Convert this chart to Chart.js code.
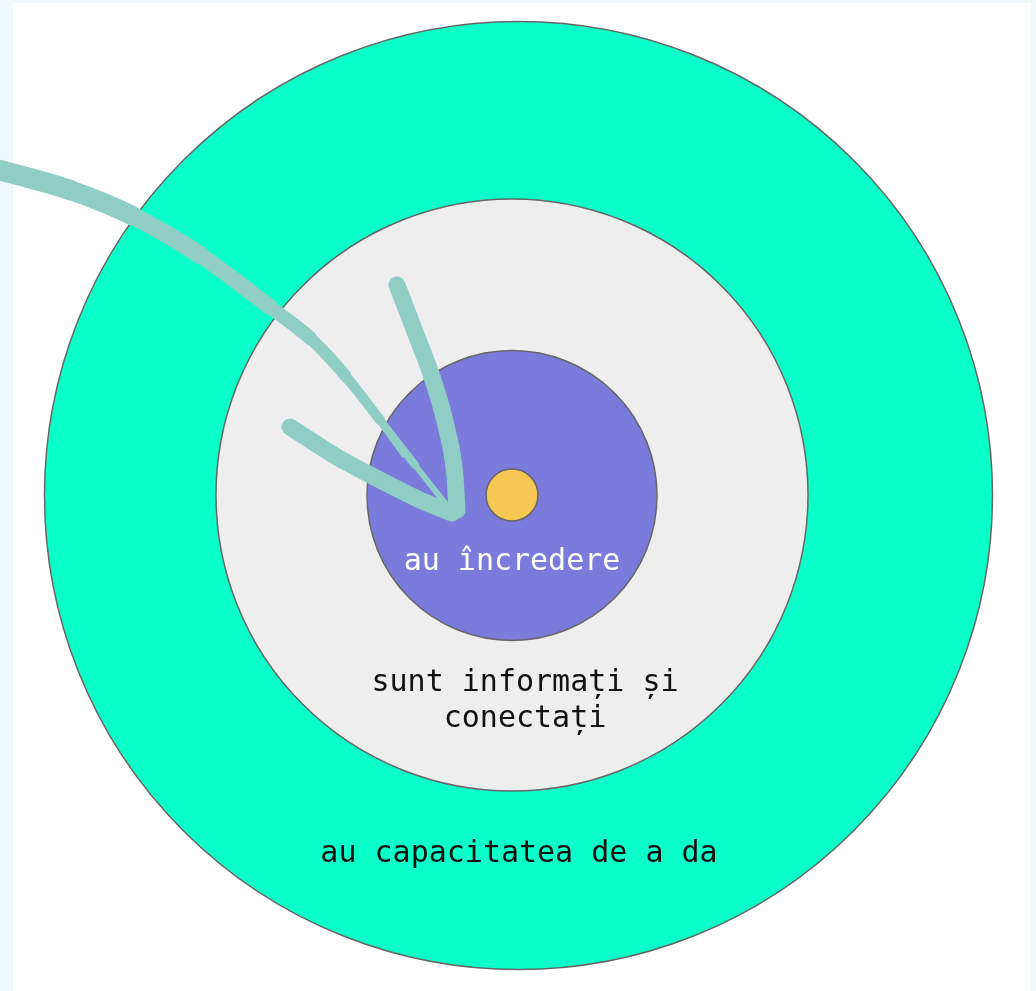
<!DOCTYPE html>
<html>
<head>
<meta charset="utf-8">
<script src="https://cdn.jsdelivr.net/npm/chart.js@4/dist/chart.umd.min.js"></script>
<style>
    html, body { margin: 0; padding: 0; background: #eff8fb; overflow: hidden; }
    #sheet { position: absolute; left: 13px; top: 3px; width: 1018px; height: 988px; background: #ffffff; }
    #wrap { position: absolute; left: 0; top: 0; width: 1036px; height: 991px; }
</style>
</head>
<body>
<div id="sheet"></div>
<div id="wrap"><canvas id="rings"></canvas></div>
<script>
// circles, outermost first: center x, center y, radius (px on a 1036x991 sheet)
const ringNames = ['au capacitatea de a da', 'sunt informați și conectați', 'au încredere', 'centru'];
const ringX = [518.5, 512, 512, 512];
const ringY = [495.5, 495, 495.5, 495];
const ringR = [474, 296, 145, 26];
const ringColors = ['#0bffc9', '#eeeeee', '#7b7bdc', '#f6c752'];

// the big arrow: shaft and two arms, with stroke width per point
const shaftX = [0, 70, 133, 200, 270, 310, 345, 380, 415, 452];
const shaftY = [170, 190, 216, 255, 307, 338, 375, 420, 465, 512];
const shaftW = [21, 20, 19, 17, 15, 13, 11, 9, 7, 5];
const strandX = [336, 370, 403];
const strandY = [372, 412, 457];
const armRightX = [397, 417, 433, 447, 455, 457];
const armRightY = [285, 337, 380, 430, 477, 510];
const armLeftX = [290, 337, 380, 420, 452];
const armLeftY = [427, 457, 480, 500, 513];

// text labels
const labelLines = [
    { text: 'au încredere', x: 512, y: 562, color: '#ffffff' },
    { text: 'sunt informați și', x: 525, y: 683, color: '#111111' },
    { text: 'conectați', x: 525, y: 719, color: '#111111' },
    { text: 'au capacitatea de a da', x: 519, y: 854, color: '#111111' }
];

const toPoints = (xs, ys) => xs.map((x, i) => ({ x: x, y: ys[i] }));
const arrowColor = '#8fcdc5';

const labelPlugin = {
    id: 'ringLabels',
    afterDatasetsDraw(chart) {
        const ctx = chart.ctx;
        const sx = chart.scales.x, sy = chart.scales.y;
        ctx.save();
        ctx.font = '30px "DejaVu Sans Mono", monospace';
        ctx.textAlign = 'center';
        ctx.textBaseline = 'middle';
        labelLines.forEach(l => {
            ctx.fillStyle = l.color;
            ctx.fillText(l.text, sx.getPixelForValue(l.x), sy.getPixelForValue(l.y));
        });
        ctx.restore();
    }
};

const arrowLine = (label, pts, width) => ({
    type: 'line',
    label: label,
    data: pts,
    borderColor: arrowColor,
    borderWidth: width,
    borderCapStyle: 'round',
    borderJoinStyle: 'round',
    cubicInterpolationMode: 'monotone',
    pointRadius: 0,
    fill: false,
    clip: false,
    order: 1
});

const shaft = arrowLine('shaft', toPoints(shaftX, shaftY), 16);
shaft.segment = { borderWidth: c => (shaftW[c.p0DataIndex] + shaftW[c.p1DataIndex]) / 2 };

new Chart(document.getElementById('rings'), {
    type: 'bubble',
    data: {
        datasets: [
            {
                label: 'rings',
                data: ringX.map((x, i) => ({ x: x, y: ringY[i], r: ringR[i] })),
                backgroundColor: ringColors,
                borderColor: '#666666',
                borderWidth: 1.5,
                hoverRadius: 0,
                clip: false,
                order: 2
            },
            shaft,
            arrowLine('strand', toPoints(strandX, strandY), 2),
            arrowLine('arm right', toPoints(armRightX, armRightY), 17),
            arrowLine('arm left', toPoints(armLeftX, armLeftY), 17)
        ]
    },
    options: {
        responsive: true,
        maintainAspectRatio: false,
        animation: false,
        layout: { padding: 0, autoPadding: false },
        plugins: {
            legend: { display: false },
            tooltip: { enabled: false }
        },
        events: [],
        scales: {
            x: { type: 'linear', min: 0, max: 1036, display: false },
            y: { type: 'linear', min: 0, max: 991, reverse: true, display: false }
        }
    },
    plugins: [labelPlugin]
});
</script>
</body>
</html>
